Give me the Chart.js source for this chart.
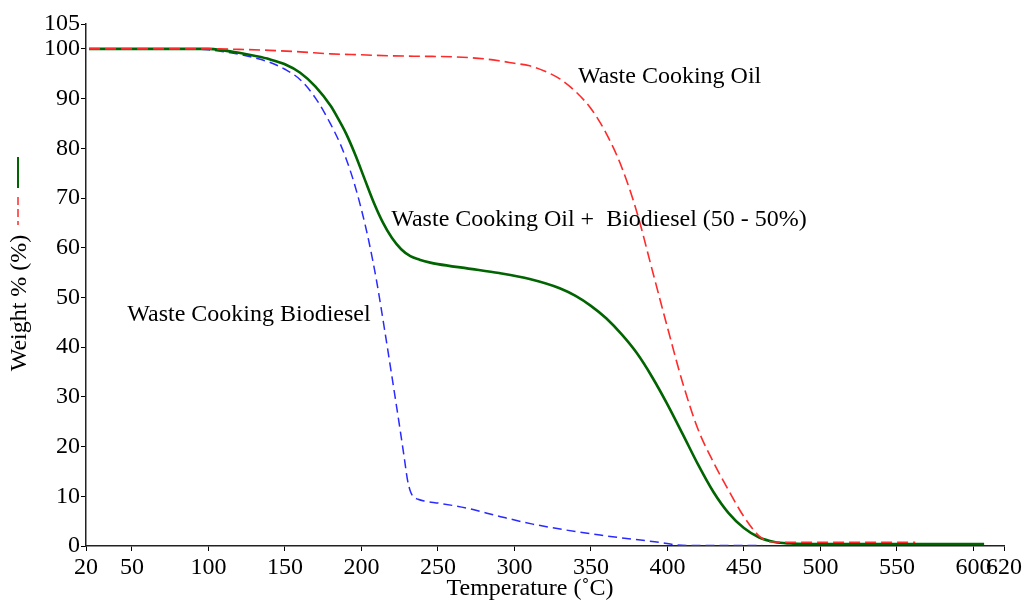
<!DOCTYPE html>
<html>
<head>
<meta charset="utf-8">
<title>TGA curves</title>
<script src="https://cdn.jsdelivr.net/npm/chart.js@4.4.1/dist/chart.umd.min.js"></script>
<style>
  html, body { margin: 0; padding: 0; background: #fff; }
  #wrap { width: 1027px; height: 602px; position: relative; }
</style>
</head>
<body>
<div id="wrap"><canvas id="tga"></canvas></div>
<script>
// axis ticks
const tempTicks = [20, 50, 100, 150, 200, 250, 300, 350, 400, 450, 500, 550, 600, 620];
const weightTicks = [0, 10, 20, 30, 40, 50, 60, 70, 80, 90, 100, 105];

// waste cooking oil (red dashed)
const oilTemp   = [22, 100, 120, 140, 160, 180, 200, 220, 240, 260, 280, 290, 300, 310, 320, 330, 340, 350, 360, 370, 380, 390, 400, 410, 420, 430, 440, 450, 460, 467, 475, 562];
const oilWeight = [100, 100, 99.9, 99.7, 99.4, 99.0, 98.8, 98.6, 98.5, 98.4, 98.0, 97.6, 97.1, 96.6, 95.5, 93.9, 91.4, 88.0, 83.0, 76.3, 67.2, 55.6, 44.0, 32.8, 23.5, 16.9, 11.2, 5.9, 2.0, 0.85, 0.75, 0.75];

// 50/50 blend (green solid)
const blendTemp   = [22, 60, 100, 110, 120, 130, 140, 150, 160, 170, 180, 184, 190, 196, 202, 208, 214, 220, 226, 232, 238, 245, 250, 270, 290, 310, 330, 340, 350, 360, 370, 380, 390, 400, 410, 420, 430, 440, 450, 460, 470, 480, 490, 607];
const blendWeight = [100, 100, 100, 99.7, 99.2, 98.6, 97.9, 96.9, 95.2, 92.4, 88.5, 86.4, 82.95, 78.7, 73.9, 69.15, 65.1, 61.95, 59.7, 58.3, 57.6, 57.0, 56.7, 55.8, 54.9, 53.7, 51.8, 50.3, 48.3, 45.8, 42.6, 38.8, 34.0, 28.5, 22.5, 16.4, 10.9, 6.6, 3.6, 1.7, 0.8, 0.5, 0.4, 0.4];

// waste cooking biodiesel (blue dashed)
const bioTemp   = [22, 50, 90, 100, 110, 120, 130, 140, 150, 160, 170, 180, 186, 190, 195, 200, 205, 210, 215, 220, 225, 228, 230, 232, 234, 237, 241, 251, 269, 291, 312, 334, 356, 379, 396, 405, 420, 462];
const bioWeight = [100, 100, 100, 99.8, 99.4, 98.9, 98.2, 97.3, 95.9, 93.8, 90.1, 84.8, 81, 77.9, 73.3, 67.7, 61.1, 53.2, 43.8, 34.0, 24.0, 17.8, 13.5, 11.0, 9.9, 9.4, 9.05, 8.6, 7.6, 5.9, 4.4, 3.2, 2.2, 1.3, 0.7, 0.25, 0.1, 0.1];

// curve labels, anchored in data units (left edge, vertical middle)
const noteText   = ['Waste Cooking Oil', 'Waste Cooking Oil +  Biodiesel (50 - 50%)', 'Waste Cooking Biodiesel'];
const noteTemp   = [341.5, 219.5, 47];
const noteWeight = [94.4, 65.6, 46.5];

const FONT = '"Liberation Serif", "Times New Roman", serif';

function pts(xs, ys) { return xs.map((x, i) => ({ x: x, y: ys[i] })); }

// labels on the curves + rotated axis title with its little legend keys
const notesPlugin = {
  id: 'notes',
  afterDraw(chart) {
    const { ctx, scales: { x, y } } = chart;
    ctx.save();
    ctx.fillStyle = '#000';
    ctx.font = '24px ' + FONT;
    ctx.textBaseline = 'middle';
    ctx.textAlign = 'left';
    noteText.forEach((t, i) => {
      ctx.fillText(t, x.getPixelForValue(noteTemp[i]), y.getPixelForValue(noteWeight[i]));
    });

    // x title
    ctx.textAlign = 'center';
    ctx.fillText('Temperature (˚C)', 530, 589);

    // y title
    ctx.save();
    ctx.translate(20, 303);
    ctx.rotate(-Math.PI / 2);
    ctx.fillText('Weight % (%)', 0, 0);
    ctx.restore();

    // legend keys (vertical)
    ctx.lineWidth = 2;
    ctx.strokeStyle = '#006400';
    ctx.beginPath(); ctx.moveTo(18, 157); ctx.lineTo(18, 188); ctx.stroke();
    ctx.lineWidth = 1.5;
    ctx.strokeStyle = '#ff2a2a';
    ctx.setLineDash([8, 4]);
    ctx.beginPath(); ctx.moveTo(18, 197); ctx.lineTo(18, 225); ctx.stroke();
    ctx.restore();
  }
};

function draw() {
  new Chart(document.getElementById('tga'), {
    type: 'line',
    data: {
      datasets: [
        {
          label: 'Waste Cooking Oil',
          data: pts(oilTemp, oilWeight),
          borderColor: '#ff2a2a',
          borderWidth: 1.6,
          borderDash: [11, 5],
          order: 0
        },
        {
          label: 'Waste Cooking Oil + Biodiesel (50 - 50%)',
          data: pts(blendTemp, blendWeight),
          borderColor: '#006400',
          borderWidth: 2.6,
          order: 1
        },
        {
          label: 'Waste Cooking Biodiesel',
          data: pts(bioTemp, bioWeight),
          borderColor: '#2a2aff',
          borderWidth: 1.5,
          borderDash: [9, 5],
          order: 2
        }
      ]
    },
    options: {
      responsive: true,
      maintainAspectRatio: false,
      animation: false,
      devicePixelRatio: 1,
      layout: { padding: { left: 0, right: 23, top: 24, bottom: 0 } },
      elements: {
        point: { radius: 0 },
        line: { cubicInterpolationMode: 'monotone', fill: false }
      },
      plugins: {
        legend: { display: false },
        tooltip: { enabled: false }
      },
      scales: {
        x: {
          type: 'linear',
          min: 20,
          max: 620,
          afterBuildTicks: s => { s.ticks = tempTicks.map(v => ({ value: v })); },
          afterFit: s => { s.height = 56; },
          grid: { display: true, drawOnChartArea: false, drawTicks: true, tickLength: 5, color: '#000', lineWidth: 1 },
          border: { display: true, color: '#222', width: 1.5 },
          ticks: { autoSkip: false, maxRotation: 0, padding: 2, color: '#000', font: { family: FONT, size: 24 } }
        },
        y: {
          min: 0,
          max: 105,
          afterBuildTicks: s => { s.ticks = weightTicks.map(v => ({ value: v })); },
          afterFit: s => { s.width = 86; },
          grid: { display: true, drawOnChartArea: false, drawTicks: true, tickLength: 5, color: '#000', lineWidth: 1 },
          border: { display: true, color: '#222', width: 1.5 },
          ticks: { autoSkip: false, padding: 1, color: '#000', font: { family: FONT, size: 24 } }
        }
      }
    },
    plugins: [notesPlugin]
  });
}

document.fonts.load('24px "Liberation Serif"').then(draw, draw);
</script>
</body>
</html>
